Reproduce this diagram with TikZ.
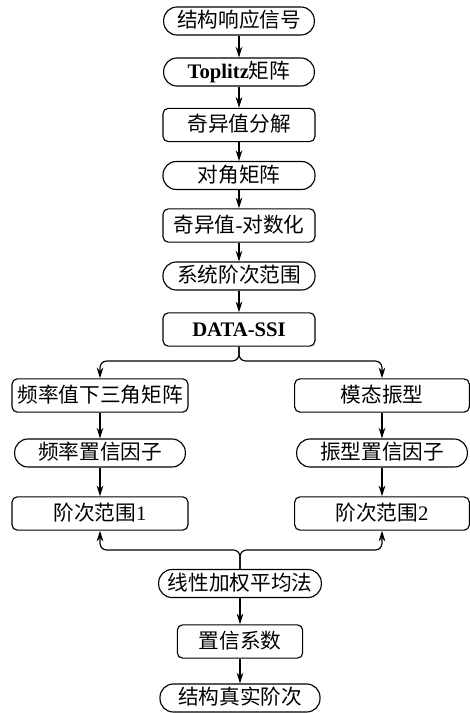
\documentclass[tikz,border=0pt]{standalone}
\usepackage{fontspec}
\setmainfont{Liberation Serif}
\newfontfamily\cjk{Noto Sans CJK SC}
\usetikzlibrary{arrows.meta}
\begin{document}
\begin{tikzpicture}[x=0.75pt,y=-0.75pt,
  base/.style={draw, line width=0.85pt, inner sep=0pt, align=center,
    font=\fontsize{15.5}{18}\selectfont, text height=12pt, text depth=2pt},
  stad/.style={base, rounded corners=10pt, minimum height=21pt},
  rbox/.style={base, rounded corners=4pt, minimum height=25pt},
  arr/.style={line width=0.85pt, -{Stealth[length=8pt,width=5pt]}},
  link/.style={line width=0.85pt, rounded corners=5pt, -{Stealth[length=8pt,width=5pt]}}]
\useasboundingbox (0,0) rectangle (470,713);
% main column
\node[stad, minimum width=113pt] (n1) at (239,21) {\cjk 结构响应信号};
\node[stad, minimum width=113pt] (n2) at (239,72) {{\bfseries Toplitz}{\cjk 矩阵}};
\node[rbox, minimum width=114pt] (n3) at (239,125) {\cjk 奇异值分解};
\node[stad, minimum width=114pt] (n4) at (239,175.5) {\cjk 对角矩阵};
\node[rbox, minimum width=114pt] (n5) at (239,225.5) {{\cjk 奇异值}-{\cjk 对数化}};
\node[stad, minimum width=114pt] (n6) at (239,276) {\cjk 系统阶次范围};
\node[rbox, minimum width=114pt] (n7) at (239,329.5) {\bfseries DATA-SSI};
% left column
\node[rbox, minimum width=132pt] (l1) at (100,395.5) {\cjk 频率值下三角矩阵};
\node[stad, minimum width=128pt] (l2) at (100,453) {\cjk 频率置信因子};
\node[rbox, minimum width=132pt] (l3) at (100,513.5) {{\cjk 阶次范围}1};
% right column
\node[rbox, minimum width=131pt] (r1) at (382,395.5) {\cjk 模态振型};
\node[stad, minimum width=128pt] (r2) at (382,453) {\cjk 振型置信因子};
\node[rbox, minimum width=131pt] (r3) at (382,513.5) {{\cjk 阶次范围}2};
% bottom
\node[stad, minimum width=122pt] (b1) at (240,583.5) {\cjk 线性加权平均法};
\node[rbox, minimum width=94pt] (b2) at (240,641.5) {\cjk 置信系数};
\node[stad, minimum width=120pt] (b3) at (240,698) {\cjk 结构真实阶次};
\coordinate (split) at (239,361);
\coordinate (merge) at (240,550);
% connectors
\draw[arr] (n1) -- (n2);
\draw[arr] (n2) -- (n3);
\draw[arr] (n3) -- (n4);
\draw[arr] (n4) -- (n5);
\draw[arr] (n5) -- (n6);
\draw[arr] (n6) -- (n7);
\draw[link] (n7.south) -- (split) -| (l1.north);
\draw[link] (n7.south) -- (split) -| (r1.north);
\draw[arr] (l1) -- (l2);
\draw[arr] (l2) -- (l3);
\draw[arr] (r1) -- (r2);
\draw[arr] (r2) -- (r3);
\draw[link] (b1.north) -- (merge) -| (l3.south);
\draw[link] (b1.north) -- (merge) -| (r3.south);
\draw[arr] (b1) -- (b2);
\draw[arr] (b2) -- (b3);
\end{tikzpicture}
\end{document}
